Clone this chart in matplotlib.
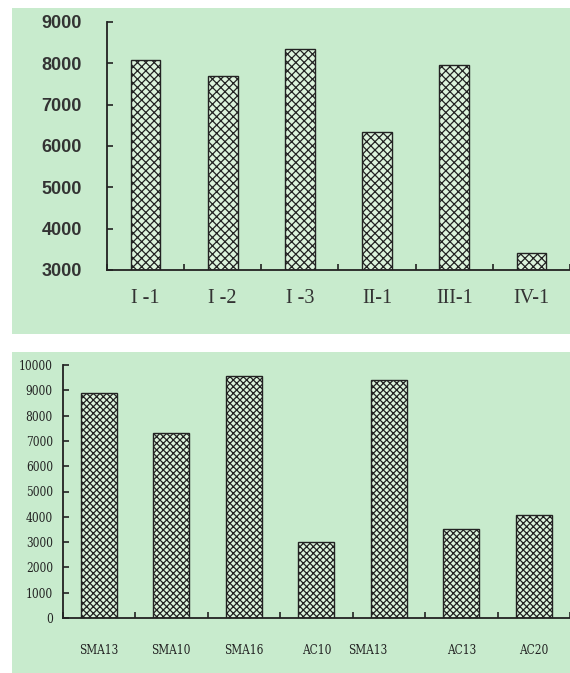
import matplotlib
matplotlib.use("Agg")
import matplotlib.pyplot as plt
from matplotlib.patches import Rectangle

# top chart data
top_labels = ["I -1", "I -2", "I -3", "II-1", "III-1", "IV-1"]
top_values = [8070, 7700, 8350, 6350, 7950, 3420]
top_yticks = [3000, 4000, 5000, 6000, 7000, 8000, 9000]

# bottom chart data
bot_labels = ["SMA13", "SMA10", "SMA16", "AC10", "SMA13", "AC13", "AC20"]
bot_values = [8900, 7300, 9580, 3020, 9400, 3530, 4080]
bot_yticks = [0, 1000, 2000, 3000, 4000, 5000, 6000, 7000, 8000, 9000, 10000]

W, H = 570, 673
BG = "#c8ebcd"
FILL = "#dcf3dc"
HATCH = "#2a4d2a"
DARK = "#222222"
TXT = "#333333"

plt.rcParams["hatch.color"] = HATCH
plt.rcParams["hatch.linewidth"] = 0.9

fig = plt.figure(figsize=(W / 100, H / 100), dpi=100)
fig.patch.set_facecolor("white")


def fbox(x0, y0, x1, y1):
    # pixel box (top-left origin) -> figure fraction rect
    return [x0 / W, 1 - y1 / H, (x1 - x0) / W, (y1 - y0) / H]


# green panels, behind the axes
fig.add_artist(Rectangle((12 / W, 1 - 334 / H), (W - 12) / W, (334 - 8) / H,
                         transform=fig.transFigure, facecolor=BG, edgecolor="none", zorder=-10))
fig.add_artist(Rectangle((12 / W, 0), (W - 12) / W, (H - 352) / H,
                         transform=fig.transFigure, facecolor=BG, edgecolor="none", zorder=-10))


def style_axes(ax):
    ax.set_facecolor("none")
    for s in ["top", "right"]:
        ax.spines[s].set_visible(False)
    for s in ["left", "bottom"]:
        ax.spines[s].set_color(DARK)
        ax.spines[s].set_linewidth(1.3)


# ---- top chart ----
ax1 = fig.add_axes(fbox(107, 22, 570, 270))
style_axes(ax1)
n1 = len(top_values)
x1 = list(range(n1))
ax1.bar(x1, [v - 3000 for v in top_values], bottom=3000, width=0.385,
        color=FILL, edgecolor=DARK, linewidth=1.0, hatch="xxxx")
ax1.set_ylim(3000, 9000)
ax1.set_xlim(-0.5, -0.5 + 463 / 78)
ax1.set_yticks(top_yticks)
ax1.set_yticklabels([str(t) for t in top_yticks], fontfamily="Liberation Sans",
                    fontweight="bold", fontsize=13, color=TXT)
ax1.tick_params(axis="y", direction="in", length=4, width=1.2, color=DARK, pad=18)
ax1.set_xticks([i - 0.5 for i in range(n1 + 1)])
ax1.set_xticklabels([])
ax1.set_xticks(x1, minor=True)
ax1.set_xticklabels(top_labels, minor=True, fontfamily="Liberation Serif",
                    fontsize=14.5, color=TXT)
ax1.tick_params(axis="x", which="major", direction="in", length=4, width=1.2, color=DARK)
ax1.tick_params(axis="x", which="minor", length=0, pad=14)

# ---- bottom chart ----
ax2 = fig.add_axes(fbox(62.5, 365, 570, 618))
style_axes(ax2)
n2 = len(bot_values)
x2 = list(range(n2))
ax2.bar(x2, bot_values, width=0.5, color=FILL, edgecolor=DARK,
        linewidth=1.0, hatch="xxxxx")
ax2.set_ylim(0, 10000)
ax2.set_xlim(-0.5, -0.5 + 507.5 / 74)
ax2.set_yticks(bot_yticks)
ax2.set_yticklabels([str(t) for t in bot_yticks], fontfamily="DejaVu Serif",
                    fontstretch="condensed", fontsize=8.5, color="#222222")
ax2.tick_params(axis="y", direction="in", length=4, width=1.2, color=DARK, pad=7)
ax2.set_xticks([i - 0.5 for i in range(n2 + 1)])
ax2.set_xticklabels([])
# the fifth label sits a little left of its bar in the original
label_pos = [i - (0.29 if i == 4 else 0) for i in x2]
ax2.set_xticks(label_pos, minor=True)
ax2.set_xticklabels(bot_labels, minor=True, fontfamily="DejaVu Serif",
                    fontstretch="condensed", fontsize=8.5, color="#222222")
ax2.tick_params(axis="x", which="major", direction="in", length=4, width=1.2, color=DARK)
ax2.tick_params(axis="x", which="minor", length=0, pad=19)

fig.savefig("out.png", dpi=100, facecolor="white")
